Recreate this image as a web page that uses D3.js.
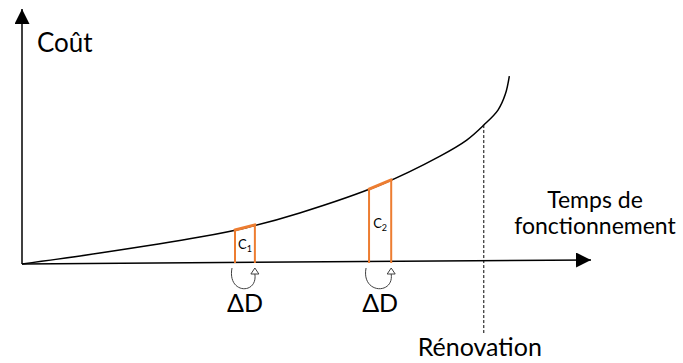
<!DOCTYPE html>
<html>
<head>
<meta charset="utf-8">
<script src="https://cdn.jsdelivr.net/npm/d3@7"></script>
<style>
  body { margin: 0; background: #fff; }
  text { font-family: Lato, 'Open Sans', sans-serif; fill: #000; }
</style>
</head>
<body>
<svg id="chart" width="683" height="363"></svg>
<script>
// cost curve (arbitrary units)
const timeVals = [0, 13.7, 31.3, 39.3, 48.9, 63.0, 73.6, 78.3, 81.3, 83.8, 85.1, 85.8]
const costVals = [0, 4.3, 10.6, 14.2, 20.1, 31.1, 42.5, 48.8, 54.7, 60.6, 66.9, 74.0]

// the two ΔD intervals
const intervalNames = ['1', '2']
const intervalStart = [37.5, 61.1]
const intervalEnd = [41.0, 65.0]
const intervalCostStart = [13.4, 29.5]
const intervalCostEnd = [15.4, 33.1]

const renovationTime = 81.3
const renovationCost = 54.7

const yLabel = 'Coût'
const xLabelLines = ['Temps de', 'fonctionnement']
const renovationLabel = 'Rénovation'
const deltaLabel = 'ΔD'

const orange = '#ed7d31'
let svg = d3.select('#chart')

let xScale = d3.scaleLinear().domain([0, 100]).range([22, 590])
let yScale = d3.scaleLinear().domain([0, 100]).range([264, 10])

let defs = svg.append('defs')
defs.append('marker')
    .attr('id', 'arrow')
    .attr('viewBox', '0 0 10 10')
    .attr('refX', 10).attr('refY', 5)
    .attr('markerWidth', 15).attr('markerHeight', 15)
    .attr('markerUnits', 'userSpaceOnUse')
    .attr('orient', 'auto')
    .append('path')
    .attr('d', 'M0,0 L10,5 L0,10 Z')
    .style('fill', '#000')

//axes
svg.append('line')
    .attr('x1', xScale(0)).attr('y1', yScale(0))
    .attr('x2', xScale(0)).attr('y2', yScale(100) - 1)
    .style('stroke', '#000').style('stroke-width', 1.5)
    .attr('marker-end', 'url(#arrow)')
svg.append('line')
    .attr('x1', xScale(0)).attr('y1', yScale(0))
    .attr('x2', xScale(100) + 1).attr('y2', yScale(1.6))
    .style('stroke', '#000').style('stroke-width', 1.5)
    .attr('marker-end', 'url(#arrow)')

//dashed renovation line
svg.append('line')
    .attr('x1', xScale(renovationTime)).attr('y1', yScale(renovationCost))
    .attr('x2', xScale(renovationTime)).attr('y2', 333)
    .style('stroke', '#000').style('stroke-width', 1)
    .style('stroke-dasharray', '3,2')

//cost curve
let line = d3.line()
    .x(function (d, i) { return xScale(timeVals[i]) })
    .y(function (d, i) { return yScale(costVals[i]) })
    .curve(d3.curveCatmullRom.alpha(0.5))
svg.append('path')
    .attr('d', line(timeVals))
    .style('fill', 'none')
    .style('stroke', '#000')
    .style('stroke-width', 1.5)

//intervals
intervalNames.forEach(function (name, i) {
    let x0 = xScale(intervalStart[i])
    let x1 = xScale(intervalEnd[i])
    let base = yScale(0) - 1
    let y0 = yScale(intervalCostStart[i])
    let y1 = yScale(intervalCostEnd[i])
    svg.append('path')
        .attr('d', `M${x0},${base} L${x0},${y0} M${x1},${base} L${x1},${y1}`)
        .style('fill', 'none')
        .style('stroke', orange)
        .style('stroke-width', 2)
    svg.append('line')
        .attr('x1', x0).attr('y1', y0)
        .attr('x2', x1).attr('y2', y1)
        .style('stroke', orange)
        .style('stroke-width', 3)
        .style('stroke-linecap', 'round')
    let label = svg.append('text')
        .attr('x', (x0 + x1) / 2)
        .attr('y', (y0 + y1) / 2 + (base - (y0 + y1) / 2) / 2 + 4)
        .attr('text-anchor', 'middle')
        .style('font-size', '13px')
    label.append('tspan').text('C')
    label.append('tspan').attr('dy', 3).style('font-size', '9px').text(name)

    //curly arrow under the axis
    let top = yScale(0) + 4
    svg.append('path')
        .attr('d', `M${x0 - 3},${top} C${x0 - 8},${top + 26} ${x1 + 3},${top + 27} ${x1},${top + 6}`)
        .style('fill', 'none')
        .style('stroke', '#404040')
        .style('stroke-width', 1)
    svg.append('path')
        .attr('d', `M${x1 - 4},${top + 6} L${x1},${top} L${x1 + 4},${top + 6} Z`)
        .style('fill', '#fff')
        .style('stroke', '#404040')
        .style('stroke-width', 1)
    svg.append('text')
        .attr('x', (x0 + x1) / 2)
        .attr('y', top + 44)
        .attr('text-anchor', 'middle')
        .style('font-size', '25px')
        .text(deltaLabel)
})

//labels
svg.append('text')
    .attr('x', 37).attr('y', 52)
    .style('font-size', '26px')
    .text(yLabel)
svg.append('text')
    .attr('text-anchor', 'middle')
    .style('font-size', '23px')
    .selectAll('tspan')
    .data(xLabelLines)
    .enter()
    .append('tspan')
    .attr('x', 595)
    .attr('y', function (d, i) { return 208 + i * 26 })
    .text(function (d) { return d })
svg.append('text')
    .attr('x', xScale(renovationTime) - 4)
    .attr('y', 356)
    .attr('text-anchor', 'middle')
    .style('font-size', '25px')
    .text(renovationLabel)
</script>
</body>
</html>
